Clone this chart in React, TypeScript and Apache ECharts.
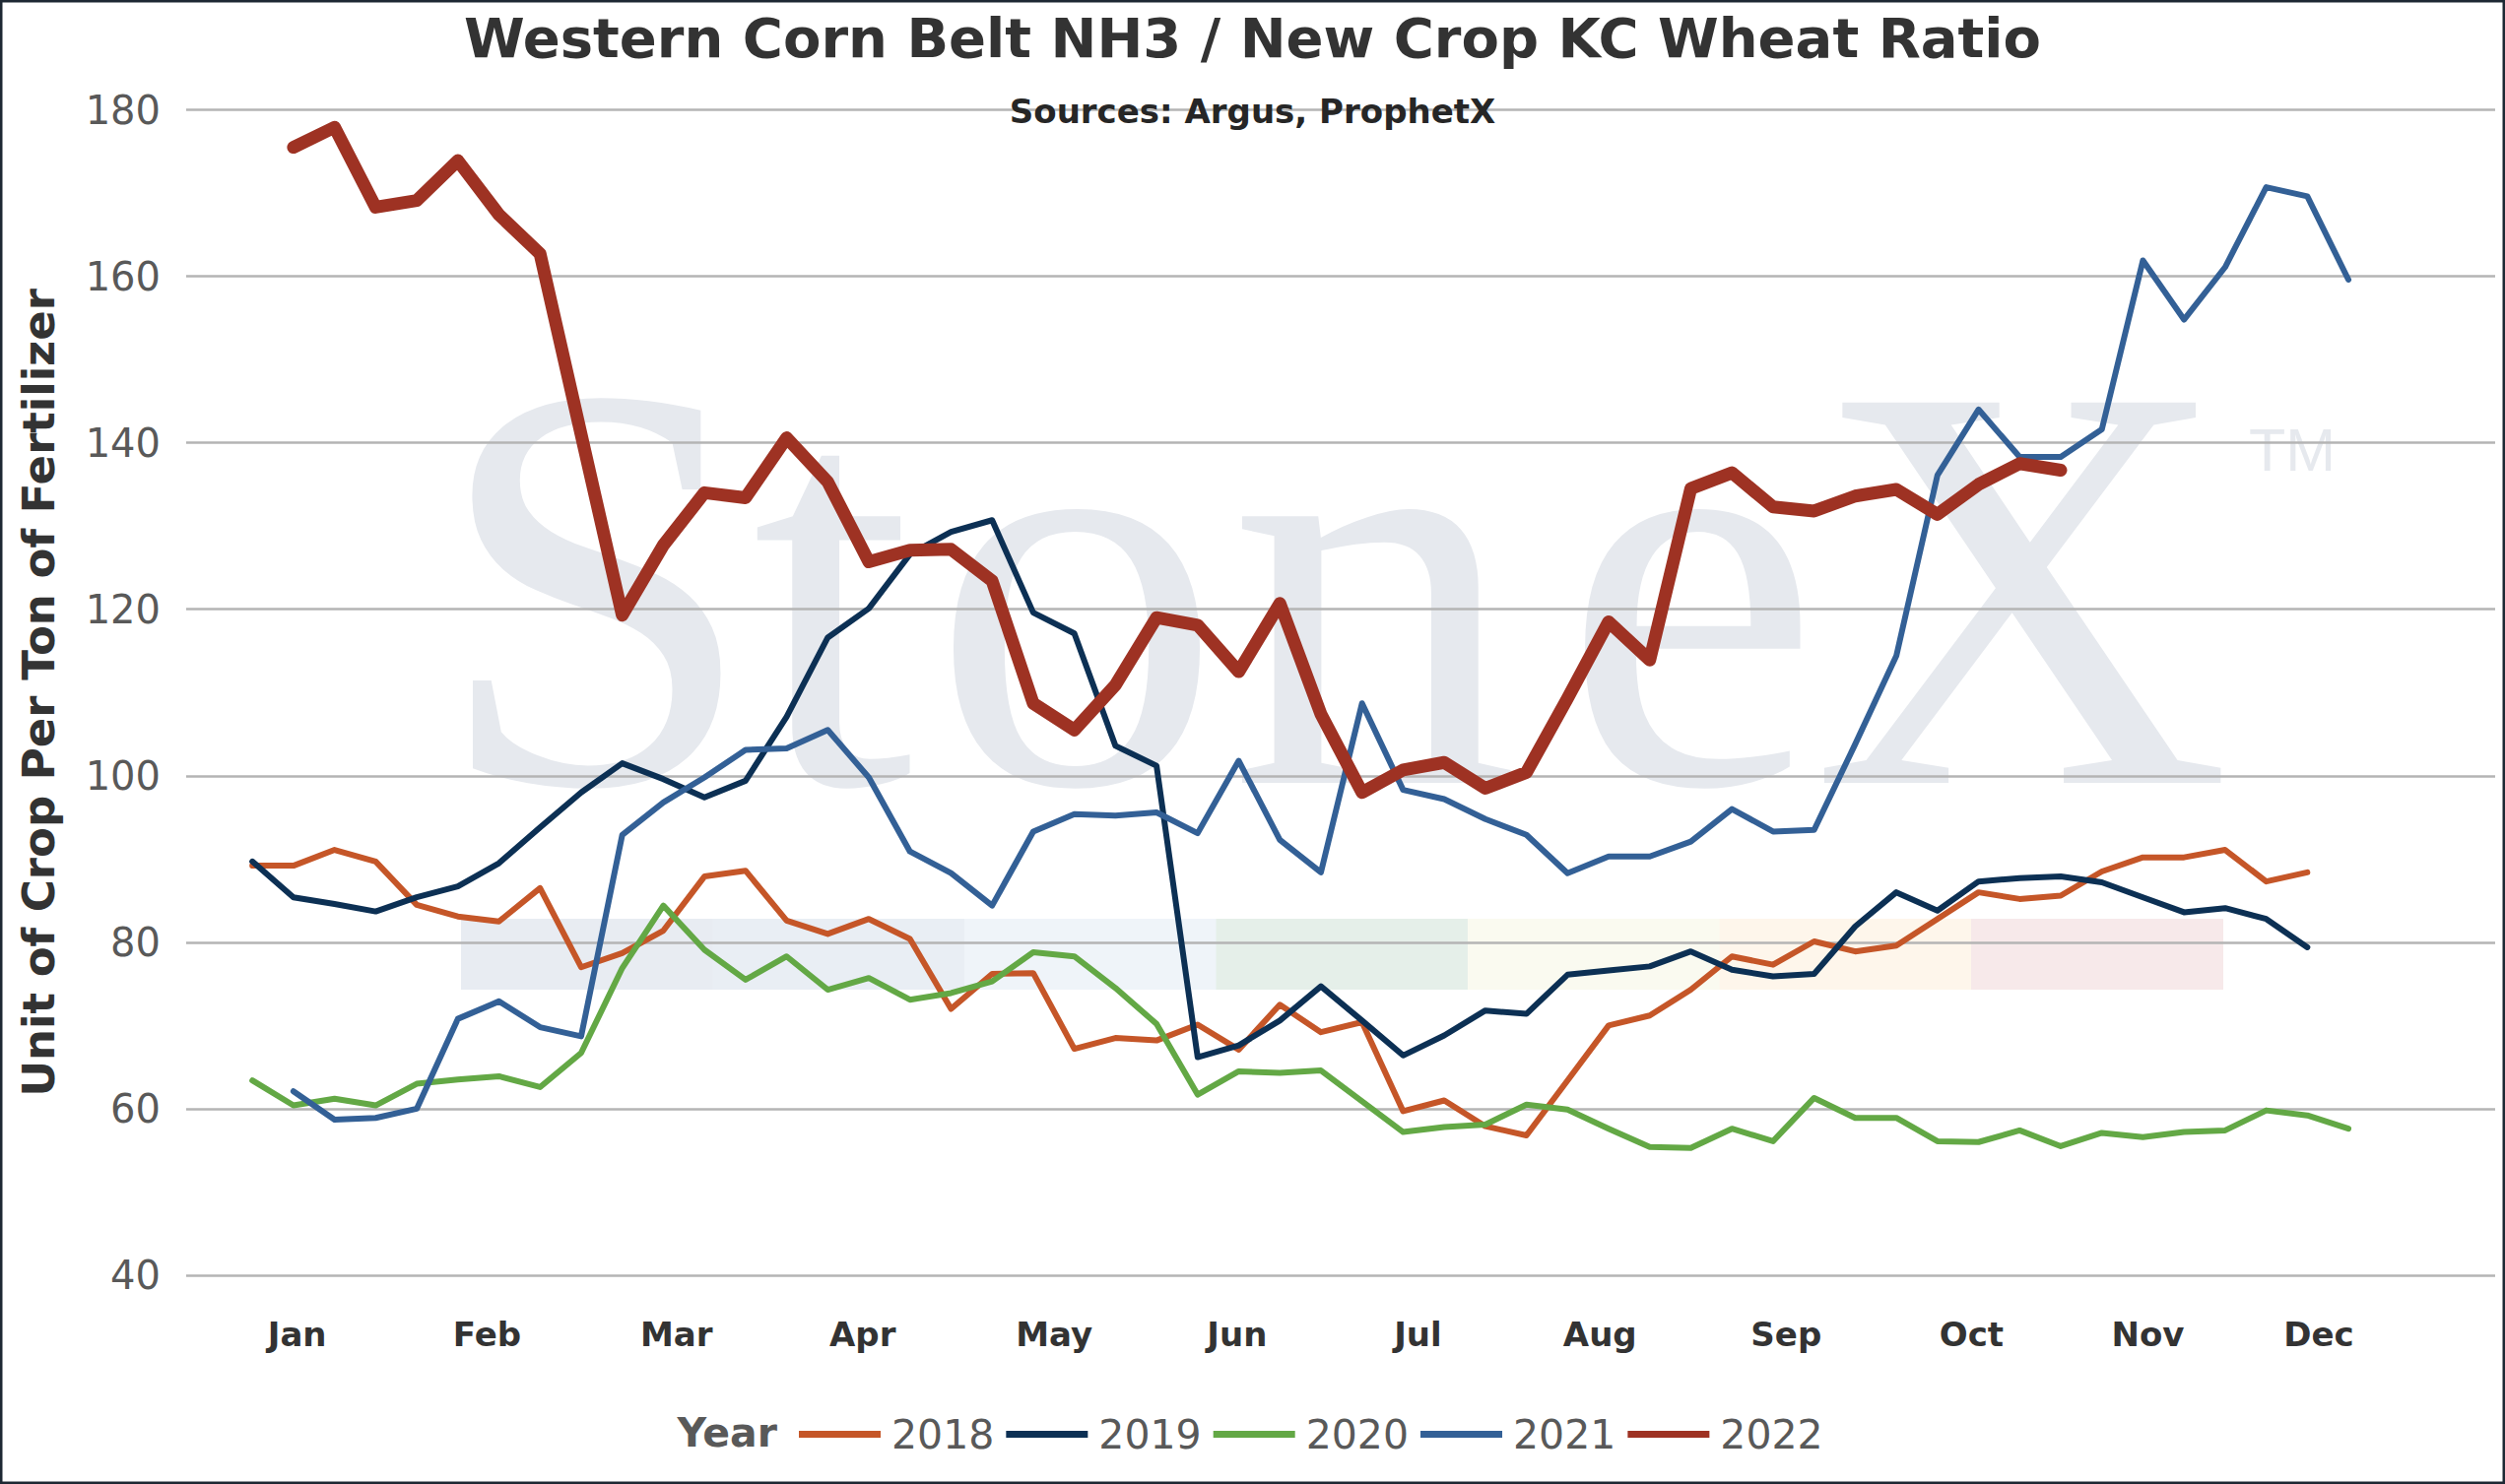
import React, { useEffect, useRef } from "react";
import * as echarts from "echarts";

// Week index (0..51) is the x value of each point.
const years = ["2018", "2019", "2020", "2021", "2022"];

const y2018 = [
  89.2, 89.2, 91.1, 89.7, 84.5, 83.1, 82.5, 86.5, 77.0, 78.7,
  81.4, 87.9, 88.6, 82.6, 81.0, 82.8, 80.4, 72.0, 76.2, 76.3,
  67.2, 68.5, 68.2, 70.1, 67.1, 72.5, 69.2, 70.4, 59.7, 61.0,
  57.9, 56.8, 63.4, 70.0, 71.2, 74.3, 78.3, 77.3, 80.1, 78.9,
  79.6, 82.8, 86.0, 85.2, 85.6, 88.5, 90.2, 90.2, 91.1, 87.3,
  88.4,
];

const y2019 = [
  89.7, 85.4, 84.6, 83.7, 85.4, 86.7, 89.5, 93.8, 98.0, 101.5,
  99.6, 97.4, 99.4, 107.1, 116.6, 120.1, 126.6, 129.3, 130.7, 119.6,
  117.1, 103.6, 101.2, 66.2, 67.6, 70.6, 74.7, 70.6, 66.4, 68.8,
  71.8, 71.4, 76.1, 76.6, 77.1, 78.9, 76.7, 75.9, 76.2, 81.9,
  86.0, 83.8, 87.3, 87.7, 87.9, 87.2, 85.4, 83.6, 84.1, 82.8,
  79.4,
];

const y2020 = [
  63.4, 60.4, 61.2, 60.4, 63.0, 63.5, 63.9, 62.6, 66.7, 76.9,
  84.4, 79.1, 75.5, 78.3, 74.3, 75.7, 73.1, 73.9, 75.3, 78.8,
  78.3, 74.5, 70.2, 61.7, 64.5, 64.3, 64.6, 60.9, 57.2, 57.8,
  58.1, 60.5, 59.9, 57.6, 55.4, 55.3, 57.6, 56.1, 61.3, 58.9,
  58.9, 56.1, 56.0, 57.4, 55.5, 57.1, 56.6, 57.2, 57.4, 59.8,
  59.2, 57.6,
];

const y2021 = [
  null, 62.1, 58.7, 58.9, 60.0, 70.8, 72.9, 69.8, 68.7, 92.9,
  96.8, 99.8, 103.1, 103.3, 105.5, 99.8, 90.9, 88.3, 84.4, 93.3,
  95.4, 95.2, 95.6, 93.1, 101.8, 92.3, 88.4, 108.7, 98.3, 97.2,
  94.8, 92.9, 88.3, 90.3, 90.3, 92.1, 96.0, 93.3, 93.5, 103.8,
  114.4, 136.1, 144.0, 138.3, 138.3, 141.6, 161.9, 154.8, 161.1, 170.7,
  169.6, 159.6,
];

const y2022 = [
  null, 175.5, 177.9, 168.3, 169.1, 173.9, 167.4, 162.7, 141.0, 119.3,
  127.7, 134.0, 133.4, 140.6, 135.3, 125.7, 127.1, 127.2, 123.4, 108.7,
  105.5, 110.9, 119.0, 118.1, 112.5, 120.7, 107.4, 98.0, 100.7, 101.6,
  98.5, 100.4, 109.3, 118.5, 113.9, 134.5, 136.4, 132.3, 131.8, 133.6,
  134.4, 131.4, 135.0, 137.5, 136.7,
];

const monthLabels = ["Jan", "Feb", "Mar", "Apr", "May", "Jun", "Jul", "Aug", "Sep", "Oct", "Nov", "Dec"];
const monthTicks = [1.09, 5.71, 10.32, 14.85, 19.51, 23.96, 28.36, 32.79, 37.32, 41.83, 46.12, 50.28];

const yTicks = { min: 40, max: 180, step: 20 };

const seriesValues = [y2018, y2019, y2020, y2021, y2022];
const seriesColors = ["#C55628", "#0C3054", "#63A845", "#336096", "#9E3223"];
const seriesWidths = [6, 6, 6, 6, 13];

const FONT = "Verdana, 'DejaVu Sans', sans-serif";
const WM = "#E6E9EE";

export default function App() {
  const ref = useRef<HTMLDivElement>(null);

  useEffect(() => {
    if (!ref.current) return;
    const chart = echarts.init(ref.current, undefined, { renderer: "svg" });
    const W = chart.getWidth();
    const H = chart.getHeight();

    const stripColors = ["#E8ECF2", "#E9EEF4", "#EFF4F9", "#E5EFE9", "#FAFAF0", "#FEF6EB", "#F7E9EA"];
    const strip = stripColors.map((c, i) => ({
      type: "rect",
      z: -10,
      silent: true,
      shape: { x: 468 + i * 255.5, y: 933, width: 256, height: 72 },
      style: { fill: c },
    }));

    const letters = [
      { t: "S", x: 604 },
      { t: "t", x: 845 },
      { t: "o", x: 1093 },
      { t: "n", x: 1395 },
      { t: "e", x: 1717 },
      { t: "X", x: 2052 },
    ];
    const wmLetters = letters.map((l) => ({
      type: "text",
      z: -10,
      silent: true,
      x: l.x,
      y: 596,
      style: {
        text: l.t,
        font: "590px 'Liberation Serif', 'Times New Roman', serif",
        fill: WM,
        align: "center",
        verticalAlign: "middle",
      },
    }));

    const option: any = {
      animation: false,
      backgroundColor: "#ffffff",
      title: [
        {
          text: "Western Corn Belt NH3 / New Crop KC Wheat Ratio",
          left: "center",
          top: 10,
          padding: 0,
          textStyle: { fontFamily: FONT, fontSize: 56, fontWeight: "bold", color: "#333333" },
        },
        {
          text: "Sources: Argus, ProphetX",
          left: "center",
          top: 96,
          padding: 0,
          textStyle: { fontFamily: FONT, fontSize: 34, fontWeight: "bold", color: "#262626" },
        },
      ],
      grid: { left: 189, right: 10, top: 111.5, bottom: 212, containLabel: false },
      legend: {
        left: 806,
        top: 1431,
        itemWidth: 83,
        itemHeight: 7,
        itemGap: 12,
        icon: "rect",
        data: years,
        textStyle: { fontFamily: FONT, fontSize: 41, color: "#595959", padding: [0, 0, 0, 6] },
      },
      xAxis: {
        type: "value",
        min: -1.61,
        max: 54.57,
        splitLine: { show: false },
        axisLine: { show: false },
        axisTick: { show: false },
        axisLabel: {
          customValues: monthTicks,
          margin: 43,
          fontFamily: FONT,
          fontSize: 34,
          fontWeight: "bold",
          color: "#333333",
          formatter: (v: number) => {
            let best = 0;
            for (let i = 0; i < monthTicks.length; i++) {
              if (Math.abs(monthTicks[i] - v) < Math.abs(monthTicks[best] - v)) best = i;
            }
            return monthLabels[best];
          },
        },
      },
      yAxis: {
        type: "value",
        min: yTicks.min,
        max: yTicks.max,
        interval: yTicks.step,
        name: "Unit of Crop Per Ton of Fertilizer",
        nameLocation: "middle",
        nameGap: 127,
        nameTextStyle: { fontFamily: FONT, fontSize: 45, fontWeight: "bold", color: "#333333" },
        axisLine: { show: false },
        axisTick: { show: false },
        axisLabel: { fontFamily: FONT, fontSize: 40, color: "#595959", margin: 26 },
        splitLine: { lineStyle: { color: "#B4B4B4", width: 2.5 } },
      },
      series: years.map((name, s) => ({
        name,
        type: "line",
        symbol: "none",
        showSymbol: false,
        data: seriesValues[s]
          .map((v, i) => [i, v])
          .filter((d) => d[1] !== null && d[1] !== undefined),
        itemStyle: { color: seriesColors[s] },
        lineStyle: { color: seriesColors[s], width: seriesWidths[s], cap: "round", join: "round" },
      })),
      graphic: {
        elements: [
          ...strip,
          ...wmLetters,
          {
            type: "text",
            z: -10,
            silent: true,
            x: 2283,
            y: 426,
            style: { text: "TM", font: "61px 'Liberation Sans', Arial, sans-serif", fill: WM },
          },
          {
            type: "text",
            x: 789,
            y: 1455,
            style: {
              text: "Year",
              font: "bold 41px " + FONT,
              fill: "#595959",
              align: "right",
              verticalAlign: "middle",
            },
          },
          {
            type: "rect",
            silent: true,
            z: 100,
            shape: { x: 1.25, y: 1.25, width: W - 2.5, height: H - 2.5 },
            style: { fill: "none", stroke: "#1E2833", lineWidth: 2.5 },
          },
        ],
      },
    };

    chart.setOption(option);
    return () => chart.dispose();
  }, []);

  return (
    <div
      ref={ref}
      style={{ position: "fixed", left: 0, top: 0, width: "100vw", height: "100vh", background: "#fff" }}
    />
  );
}
